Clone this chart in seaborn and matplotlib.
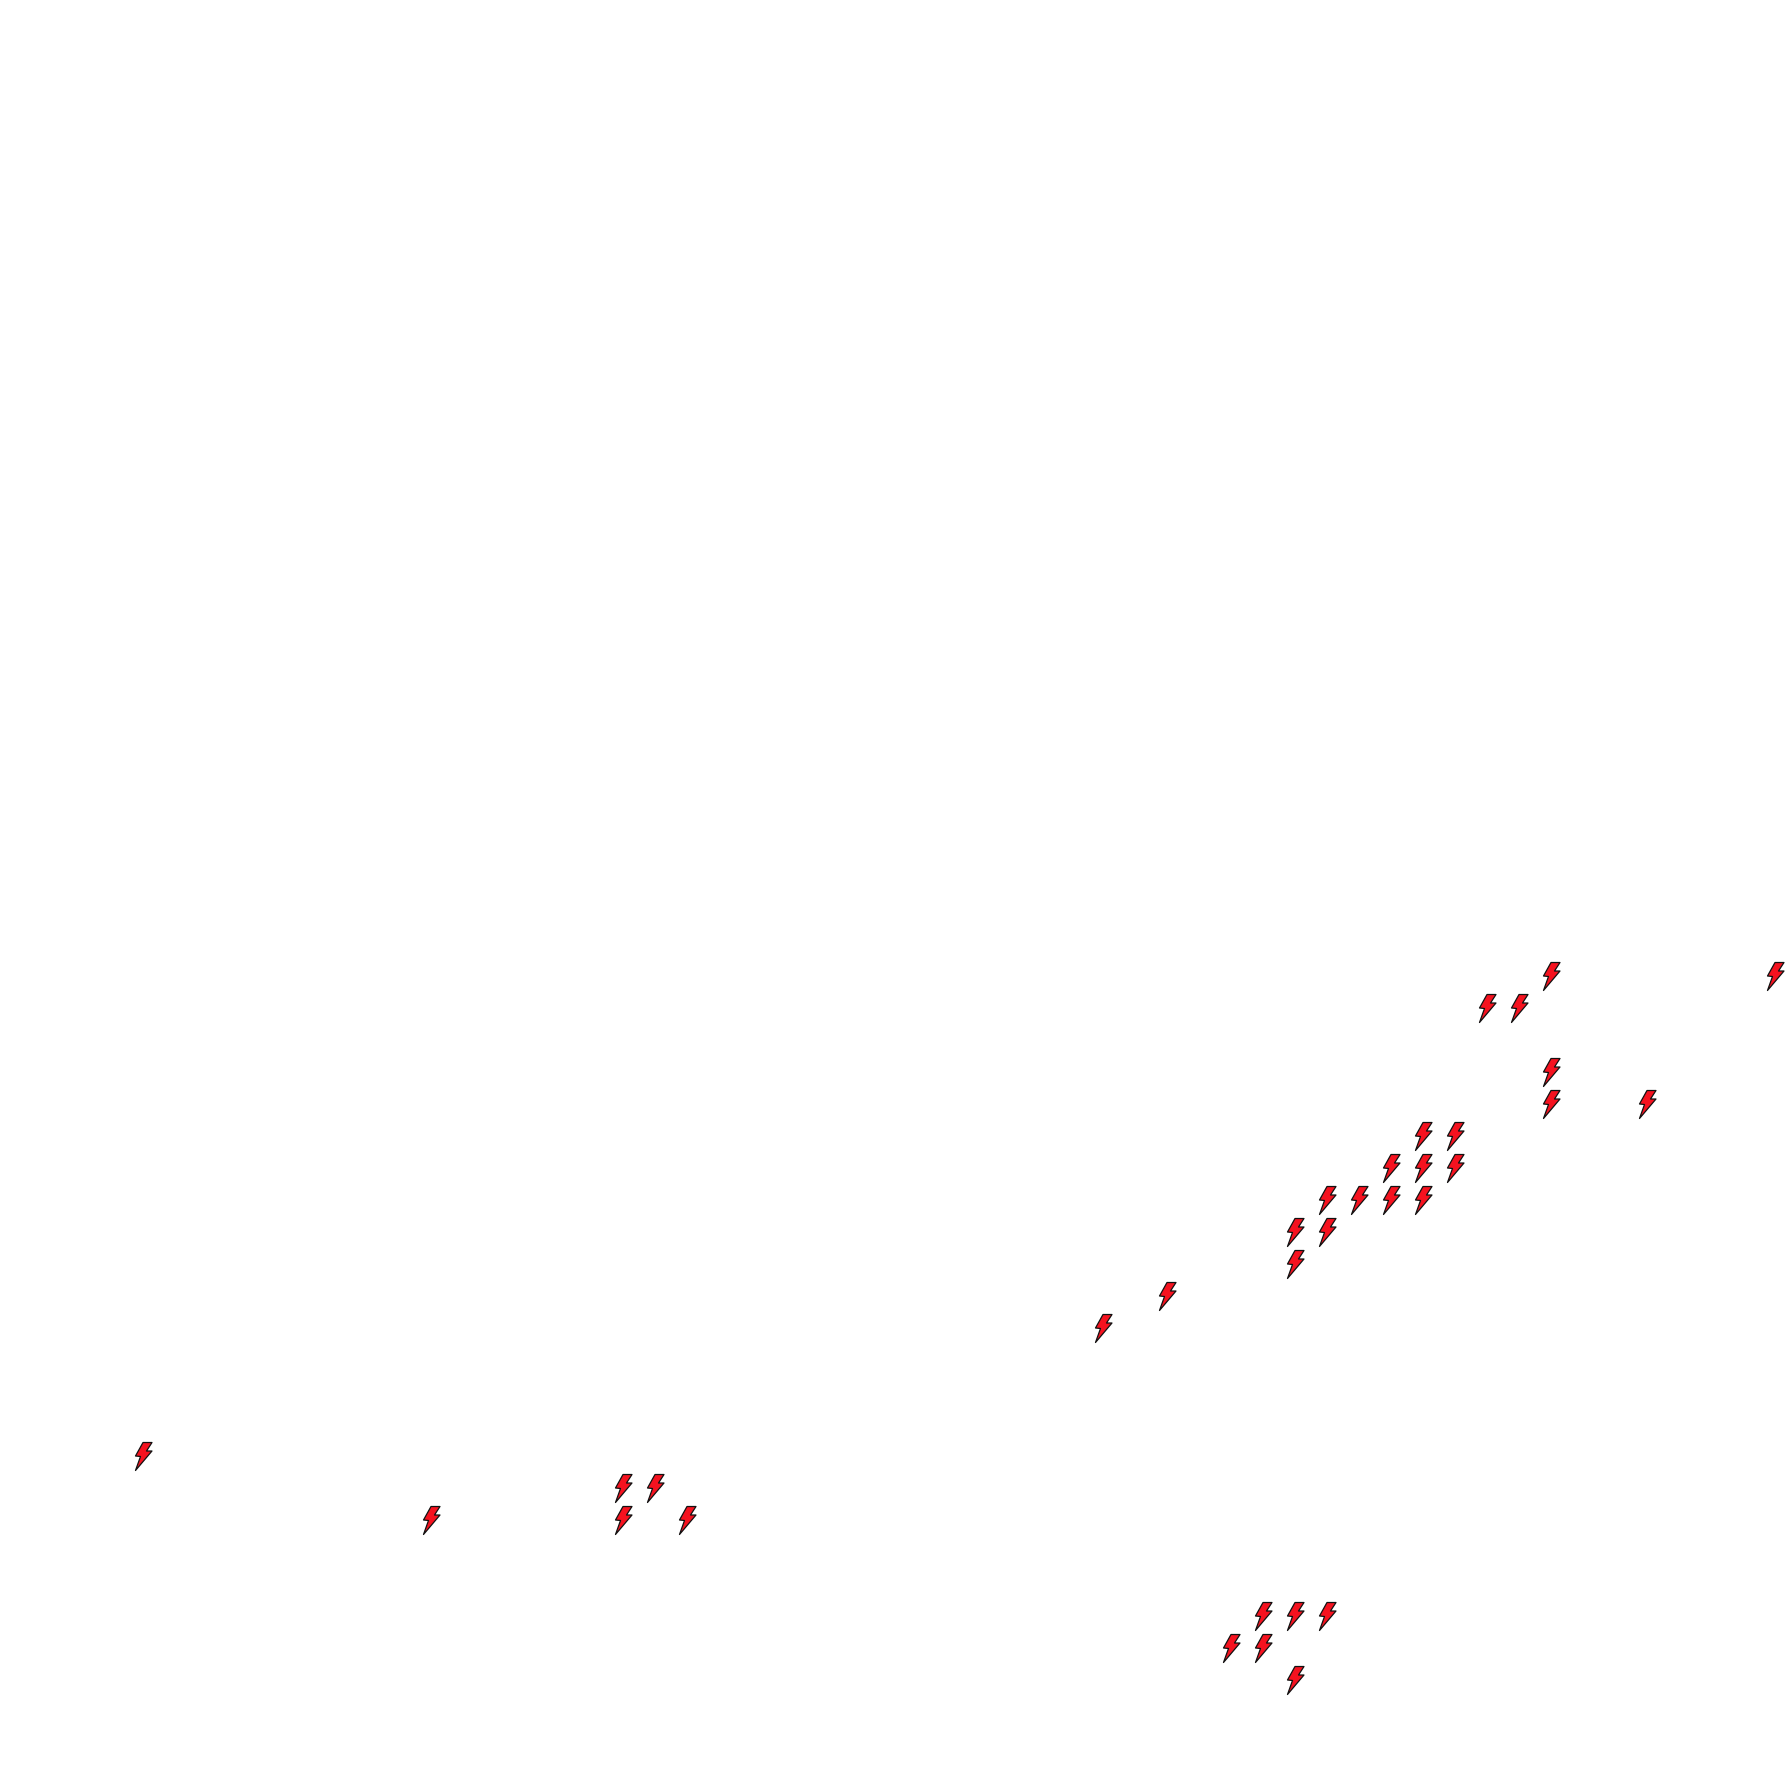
import pandas as pd
import seaborn as sns
import matplotlib.pyplot as plt
from matplotlib.path import Path

# Marker positions on the 32 px grid of the picture
col = [44, 51, 42, 43, 44, 44, 47, 40, 41, 39, 40, 41, 37, 38, 39, 40, 36, 37, 36,
       32, 30, 0, 15, 16, 9, 15, 17, 35, 36, 37, 34, 35, 36]
row = [22, 22, 21, 21, 19, 18, 18, 17, 17, 16, 16, 16, 15, 15, 15, 15, 14, 14, 13,
       12, 11, 7, 6, 6, 5, 5, 5, 2, 2, 2, 1, 1, 0]

df = pd.DataFrame({'col': col, 'row': row})

# Lightning bolt outline, y pointing up
bolt = Path([(-0.5, 14.0), (8.5, 14.0), (3.0, 5.5), (8.5, 5.5), (-8.0, -14.0),
             (-3.0, 0.0), (-8.0, 0.5), (-0.5, 14.0)], closed=True)

sns.set_theme(style='white')
fig, ax = plt.subplots(figsize=(17.92, 17.92), dpi=100)
fig.subplots_adjust(left=0, right=1, bottom=0, top=1)

sns.scatterplot(data=df, x='col', y='row', marker=bolt, s=406, color='#f5121f',
                edgecolor='#111111', linewidth=0.9, legend=False, ax=ax)

ax.set_xlim(-143 / 32, (1792 - 143) / 32)
ax.set_ylim(-112 / 32, 1680 / 32)
ax.axis('off')

plt.savefig('out.png', dpi=100)
